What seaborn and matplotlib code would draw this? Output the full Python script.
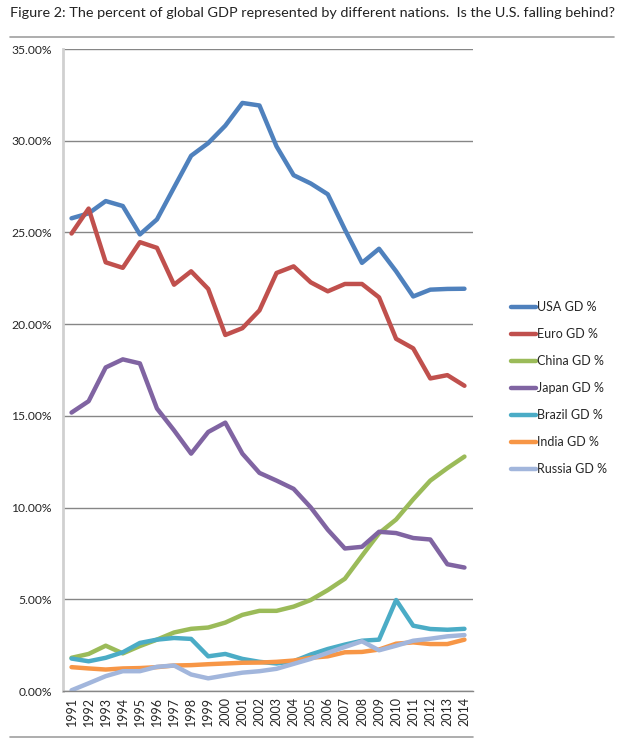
import numpy as np
import pandas as pd
import seaborn as sns
import matplotlib.pyplot as plt
from matplotlib.lines import Line2D
from matplotlib.ticker import FuncFormatter, MultipleLocator

years = list(range(1991, 2015))
usa = [25.77, 26.04, 26.71, 26.44, 24.89, 25.71, 27.45, 29.18, 29.87, 30.82, 32.06, 31.92,
       29.69, 28.12, 27.67, 27.08, 25.16, 23.34, 24.11, 22.88, 21.51, 21.88, 21.92, 21.93]
euro = [24.94, 26.30, 23.37, 23.07, 24.47, 24.16, 22.15, 22.88, 21.92, 19.41, 19.78, 20.75,
        22.79, 23.15, 22.28, 21.79, 22.19, 22.19, 21.46, 19.20, 18.68, 17.04, 17.22, 16.64]
china = [1.81, 2.02, 2.47, 2.05, 2.45, 2.80, 3.19, 3.39, 3.46, 3.73, 4.15, 4.37,
         4.37, 4.60, 4.96, 5.50, 6.12, 7.37, 8.60, 9.35, 10.45, 11.47, 12.15, 12.78]
japan = [15.18, 15.80, 17.64, 18.08, 17.86, 15.40, 14.21, 12.94, 14.12, 14.63, 12.94, 11.89,
         11.47, 11.02, 10.01, 8.79, 7.77, 7.86, 8.68, 8.61, 8.34, 8.26, 6.91, 6.73]
brazil = [1.77, 1.62, 1.81, 2.11, 2.62, 2.80, 2.89, 2.84, 1.89, 2.02, 1.75, 1.59,
          1.50, 1.62, 1.99, 2.29, 2.53, 2.74, 2.80, 4.96, 3.56, 3.38, 3.34, 3.39]
india = [1.30, 1.23, 1.17, 1.23, 1.25, 1.30, 1.39, 1.41, 1.46, 1.50, 1.54, 1.55,
         1.59, 1.66, 1.81, 1.89, 2.11, 2.13, 2.26, 2.58, 2.65, 2.56, 2.56, 2.80]
russia = [0.04, 0.42, 0.81, 1.08, 1.08, 1.32, 1.39, 0.90, 0.69, 0.85, 1.00, 1.08,
          1.21, 1.48, 1.75, 2.08, 2.40, 2.71, 2.22, 2.47, 2.74, 2.85, 2.98, 3.05]

names = ["USA GD %", "Euro GD %", "China GD %", "Japan GD %", "Brazil GD %", "India GD %", "Russia GD %"]
colors = ["#4F81BD", "#C0504D", "#9BBB59", "#8064A2", "#4BACC6", "#F79646", "#A2B6DC"]
series = [usa, euro, china, japan, brazil, india, russia]

df = pd.concat([pd.DataFrame({"year": years, "pct": s, "nation": n}) for n, s in zip(names, series)])

sns.set_style("white")
plt.rcParams['font.family'] = ['Lato', 'DejaVu Sans']

fig = plt.figure(figsize=(6.29, 7.44), dpi=100)
ax = fig.add_axes([63/629, 1-691/744, (473-63)/629, (691-49)/744])

sns.lineplot(data=df, x="year", y="pct", hue="nation", palette=colors, hue_order=names,
             linewidth=3.2, ax=ax, legend=True)

ax.set_xlim(1990.5, 2014.5)
ax.set_ylim(0, 35)
ax.yaxis.set_major_locator(MultipleLocator(5))
ax.yaxis.set_major_formatter(FuncFormatter(lambda v, p: f"{v:.2f}%"))
ax.set_xticks(years)
ax.set_xticks(np.arange(1990.5, 2015, 1), minor=True)
ax.set_xticklabels([str(y) for y in years], rotation=90, fontsize=9)
ax.tick_params(axis='x', which='major', length=0, pad=4)
ax.tick_params(axis='x', which='minor', length=5, color='#868686', width=1)
ax.tick_params(axis='y', length=5, color='#868686', width=1, labelsize=8.7, pad=3)
ax.grid(axis='y', color='#868686', linewidth=1)
ax.set_axisbelow(True)
ax.set_xlabel("")
ax.set_ylabel("")
for s in ["top", "right"]:
    ax.spines[s].set_visible(False)
ax.spines["left"].set_color("#D0D0D0")
ax.spines["left"].set_linewidth(2)
ax.spines["bottom"].set_color("#868686")
ax.spines["bottom"].set_linewidth(1)

leg = ax.legend(loc="center left", bbox_to_anchor=(1.065, 0.472), frameon=False, fontsize=9,
                handlelength=2.0, handletextpad=0.1, labelspacing=1.2)
for h in leg.get_lines():
    h.set_linewidth(3.2)

fig.text(10/629, 1-13/744, "Figure 2: The percent of global GDP represented by different nations.  Is the U.S. falling behind?",
         fontsize=10.4, va='center', ha='left', color='#222222')
fig.add_artist(Line2D([10/629, 614/629], [1-37/744, 1-37/744], color='#A0A0A0', linewidth=1.2))
fig.add_artist(Line2D([10/629, 473/629], [1-737/744, 1-737/744], color='#A0A0A0', linewidth=1.2))

fig.savefig("out.png", dpi=100)
